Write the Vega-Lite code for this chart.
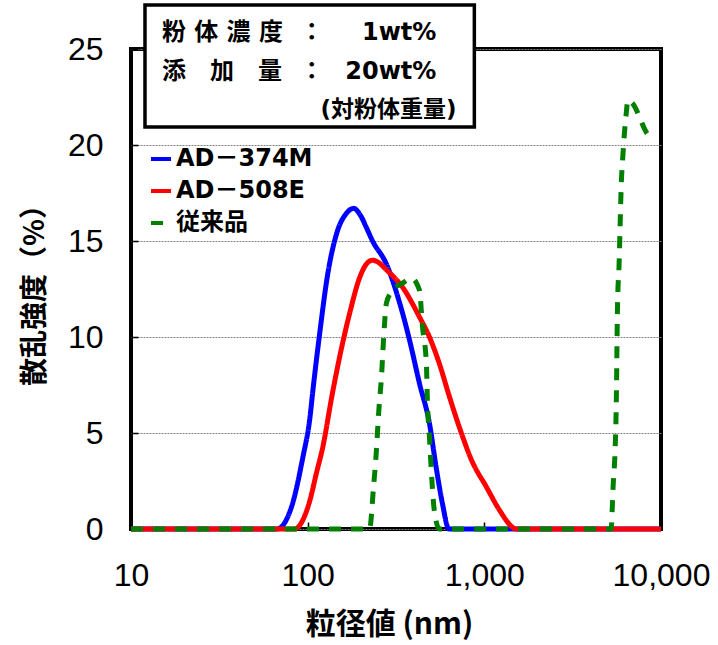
{
  "$schema": "https://vega.github.io/schema/vega-lite/v6.json",
  "width": 530,
  "height": 480,
  "autosize": {"type": "none"},
  "padding": {"left": 131, "top": 49, "right": 57, "bottom": 116},
  "background": "white",
  "config": {
    "view": {"stroke": "black", "strokeWidth": 4},
    "axis": {
      "labelFont": "Liberation Sans",
      "labelFontSize": 32,
      "labelColor": "black",
      "titleFont": "Noto Sans CJK JP",
      "titleFontWeight": "bold",
      "titleColor": "black",
      "domain": false,
      "tickColor": "black",
      "tickWidth": 1.5
    }
  },
  "datasets": {
    "psd": [
      {"series": "AD－374M", "nm": 10, "val": 0},
      {"series": "AD－374M", "nm": 67, "val": 0},
      {"series": "AD－374M", "nm": 81, "val": 1.15},
      {"series": "AD－374M", "nm": 94, "val": 3.75},
      {"series": "AD－374M", "nm": 103, "val": 5.8},
      {"series": "AD－374M", "nm": 107, "val": 7.2},
      {"series": "AD－374M", "nm": 117, "val": 10.2},
      {"series": "AD－374M", "nm": 130, "val": 13.3},
      {"series": "AD－374M", "nm": 146, "val": 15.4},
      {"series": "AD－374M", "nm": 166, "val": 16.45},
      {"series": "AD－374M", "nm": 182, "val": 16.7},
      {"series": "AD－374M", "nm": 200, "val": 16.3},
      {"series": "AD－374M", "nm": 215, "val": 15.7},
      {"series": "AD－374M", "nm": 233, "val": 15.0},
      {"series": "AD－374M", "nm": 279, "val": 13.8},
      {"series": "AD－374M", "nm": 331, "val": 11.8},
      {"series": "AD－374M", "nm": 377, "val": 9.85},
      {"series": "AD－374M", "nm": 429, "val": 7.6},
      {"series": "AD－374M", "nm": 489, "val": 5.5},
      {"series": "AD－374M", "nm": 536, "val": 3.1},
      {"series": "AD－374M", "nm": 580, "val": 1.3},
      {"series": "AD－374M", "nm": 630, "val": 0},
      {"series": "AD－374M", "nm": 10000, "val": 0},
      {"series": "AD－508E", "nm": 10, "val": 0},
      {"series": "AD－508E", "nm": 84, "val": 0},
      {"series": "AD－508E", "nm": 103, "val": 1.5},
      {"series": "AD－508E", "nm": 112, "val": 2.9},
      {"series": "AD－508E", "nm": 122, "val": 4.3},
      {"series": "AD－508E", "nm": 137, "val": 6.9},
      {"series": "AD－508E", "nm": 152, "val": 9.0},
      {"series": "AD－508E", "nm": 173, "val": 11.25},
      {"series": "AD－508E", "nm": 197, "val": 13.1},
      {"series": "AD－508E", "nm": 215, "val": 13.8},
      {"series": "AD－508E", "nm": 233, "val": 14.0},
      {"series": "AD－508E", "nm": 250, "val": 13.9},
      {"series": "AD－508E", "nm": 279, "val": 13.5},
      {"series": "AD－508E", "nm": 344, "val": 12.6},
      {"series": "AD－508E", "nm": 429, "val": 11.05},
      {"series": "AD－508E", "nm": 489, "val": 10.0},
      {"series": "AD－508E", "nm": 557, "val": 8.6},
      {"series": "AD－508E", "nm": 634, "val": 6.9},
      {"series": "AD－508E", "nm": 722, "val": 5.3},
      {"series": "AD－508E", "nm": 855, "val": 3.5},
      {"series": "AD－508E", "nm": 1026, "val": 2.2},
      {"series": "AD－508E", "nm": 1215, "val": 1.0},
      {"series": "AD－508E", "nm": 1440, "val": 0.1},
      {"series": "AD－508E", "nm": 1500, "val": 0},
      {"series": "AD－508E", "nm": 10000, "val": 0},
      {"series": "従来品", "nm": 10, "val": 0},
      {"series": "従来品", "nm": 224, "val": 0},
      {"series": "従来品", "nm": 236, "val": 2.2},
      {"series": "従来品", "nm": 245, "val": 4.1},
      {"series": "従来品", "nm": 252, "val": 6.0},
      {"series": "従来品", "nm": 262, "val": 8.0},
      {"series": "従来品", "nm": 269, "val": 9.9},
      {"series": "従来品", "nm": 279, "val": 11.75},
      {"series": "従来品", "nm": 298, "val": 12.35},
      {"series": "従来品", "nm": 344, "val": 12.8},
      {"series": "従来品", "nm": 387, "val": 13.05},
      {"series": "従来品", "nm": 429, "val": 12.45},
      {"series": "従来品", "nm": 447, "val": 10.5},
      {"series": "従来品", "nm": 470, "val": 8.6},
      {"series": "従来品", "nm": 476, "val": 6.7},
      {"series": "従来品", "nm": 489, "val": 4.8},
      {"series": "従来品", "nm": 502, "val": 2.9},
      {"series": "従来品", "nm": 522, "val": 0.9},
      {"series": "従来品", "nm": 557, "val": 0},
      {"series": "従来品", "nm": 5219, "val": 0},
      {"series": "従来品", "nm": 5356, "val": 2.2},
      {"series": "従来品", "nm": 5496, "val": 4.1},
      {"series": "従来品", "nm": 5569, "val": 6.0},
      {"series": "従来品", "nm": 5610, "val": 8.0},
      {"series": "従来品", "nm": 5640, "val": 9.95},
      {"series": "従来品", "nm": 5680, "val": 11.8},
      {"series": "従来品", "nm": 5790, "val": 13.75},
      {"series": "従来品", "nm": 5866, "val": 15.7},
      {"series": "従来品", "nm": 5943, "val": 17.65},
      {"series": "従来品", "nm": 6100, "val": 19.6},
      {"series": "従来品", "nm": 6340, "val": 21.55},
      {"series": "従来品", "nm": 6510, "val": 22.35},
      {"series": "従来品", "nm": 6860, "val": 22.2},
      {"series": "従来品", "nm": 8340, "val": 20.6},
      {"series": "従来品", "nm": 8850, "val": 20.3}
    ]
  },
  "layer": [
    {
      "data": {"name": "psd"},
      "mark": {"type": "line", "strokeWidth": 5, "clip": false, "interpolate": "monotone"},
      "encoding": {
        "x": {
          "field": "nm", "type": "quantitative",
          "scale": {"type": "log", "domain": [10, 10000], "nice": false},
          "axis": {
            "values": [10, 100, 1000, 10000],
            "format": ",",
            "grid": false,
            "tickSize": -7,
            "labelPadding": 38,
            "labelFlush": false,
            "labelOverlap": false,
            "title": "粒径値 (nm)",
            "titleFontSize": 30,
            "titleX": 258,
            "titleY": 95,
            "titleBaseline": "middle",
            "titleAnchor": null,
            "titleAlign": "center"
          }
        },
        "y": {
          "field": "val", "type": "quantitative",
          "scale": {"domain": [0, 25], "nice": false, "zero": true},
          "axis": {
            "values": [0, 5, 10, 15, 20, 25],
            "grid": true,
            "gridColor": "#808080",
            "gridDash": [2, 1],
            "gridWidth": 1,
            "tickSize": -7,
            "labelPadding": 35,
            "title": "散乱強度（%）",
            "titleFontSize": 28,
            "titleX": -96,
            "titleY": 239,
            "titleAngle": 270,
            "titleBaseline": "middle",
            "titleAlign": "center",
            "titleAnchor": null
          }
        },
        "color": {
          "field": "series", "type": "nominal",
          "scale": {"domain": ["AD－374M", "AD－508E", "従来品"], "range": ["#0000FF", "#FF0000", "#008000"]},
          "legend": {
            "orient": "none",
            "legendX": 18,
            "legendY": 98,
            "title": null,
            "labelFont": "DejaVu Sans, Noto Sans CJK JP",
            "labelFontWeight": "bold",
            "labelFontSize": 24,
            "labelColor": "black",
            "labelLimit": 300,
            "labelOffset": 3,
            "symbolType": "stroke",
            "symbolSize": 400,
            "symbolStrokeWidth": 4,
            "rowPadding": 8
          }
        },
        "strokeDash": {
          "field": "series", "type": "nominal",
          "scale": {"domain": ["AD－374M", "AD－508E", "従来品"], "range": [[1, 0], [1, 0], [12, 10]]},
          "legend": null
        }
      }
    },
    {
      "data": {"values": [{}]},
      "mark": {"type": "rect", "fill": "white", "stroke": "black", "strokeWidth": 3.5, "clip": false},
      "encoding": {
        "x": {"datum": 12.0, "type": "quantitative"},
        "x2": {"datum": 878},
        "y": {"datum": 27.29, "type": "quantitative"},
        "y2": {"datum": 20.94}
      }
    },
    {
      "data": {"values": [{}]},
      "mark": {"type": "text", "font": "DejaVu Sans, Noto Sans CJK JP", "fontWeight": "bold", "fontSize": 24, "align": "left", "baseline": "middle", "color": "black", "clip": false},
      "encoding": {"x": {"datum": 14.96, "type": "quantitative"}, "y": {"datum": 25.83, "type": "quantitative"}, "text": {"value": "粉 体 濃 度"}}
    },
    {
      "data": {"values": [{}]},
      "mark": {"type": "text", "font": "DejaVu Sans, Noto Sans CJK JP", "fontWeight": "bold", "fontSize": 24, "align": "left", "baseline": "middle", "color": "black", "clip": false},
      "encoding": {"x": {"datum": 14.96, "type": "quantitative"}, "y": {"datum": 23.78, "type": "quantitative"}, "text": {"value": "添　加　量"}}
    },
    {
      "data": {"values": [{}]},
      "mark": {"type": "text", "font": "Noto Sans CJK JP", "fontWeight": "bold", "fontSize": 24, "align": "center", "baseline": "middle", "color": "black", "clip": false},
      "encoding": {"x": {"datum": 105.3, "type": "quantitative"}, "y": {"datum": 25.83, "type": "quantitative"}, "text": {"value": "："}}
    },
    {
      "data": {"values": [{}]},
      "mark": {"type": "text", "font": "Noto Sans CJK JP", "fontWeight": "bold", "fontSize": 24, "align": "center", "baseline": "middle", "color": "black", "clip": false},
      "encoding": {"x": {"datum": 105.3, "type": "quantitative"}, "y": {"datum": 23.78, "type": "quantitative"}, "text": {"value": "："}}
    },
    {
      "data": {"values": [{}]},
      "mark": {"type": "text", "font": "DejaVu Sans", "fontWeight": "bold", "fontSize": 24, "align": "right", "baseline": "middle", "color": "black", "clip": false},
      "encoding": {"x": {"datum": 535, "type": "quantitative"}, "y": {"datum": 25.83, "type": "quantitative"}, "text": {"value": "1wt%"}}
    },
    {
      "data": {"values": [{}]},
      "mark": {"type": "text", "font": "DejaVu Sans", "fontWeight": "bold", "fontSize": 24, "align": "right", "baseline": "middle", "color": "black", "clip": false},
      "encoding": {"x": {"datum": 535, "type": "quantitative"}, "y": {"datum": 23.78, "type": "quantitative"}, "text": {"value": "20wt%"}}
    },
    {
      "data": {"values": [{}]},
      "mark": {"type": "text", "font": "DejaVu Sans, Noto Sans CJK JP", "fontWeight": "bold", "fontSize": 23, "align": "right", "baseline": "middle", "color": "black", "clip": false},
      "encoding": {"x": {"datum": 695, "type": "quantitative"}, "y": {"datum": 21.82, "type": "quantitative"}, "text": {"value": "(対粉体重量)"}}
    }
  ]
}
